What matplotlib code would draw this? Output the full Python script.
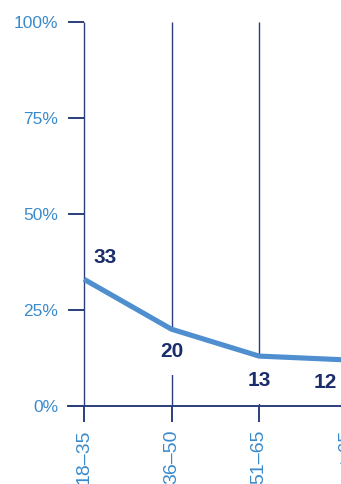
# Line chart of share per age group, clipped at the right edge like the source graphic
import numpy as np
import matplotlib.pyplot as plt

plt.rcParams.update({"font.family": 'Liberation Sans'})

# Data
age_groups = ['18–35', '36–50', '51–65', '>65']
shares = [33, 20, 13, 12]
y_ticks = [0, 25, 50, 75, 100]
y_tick_labels = ['0%', '25%', '50%', '75%', '100%']

# Colours
navy = '#2c3f7c'
text_navy = '#1b2d6b'
tick_blue = '#3a8acb'
line_blue = '#4f8fcf'

fig = plt.figure(figsize=(3.41, 4.84), dpi=100)

# axes run past the right edge of the figure so the last category gets cut off
x_left, x_right = -0.183, 3.3
ax = fig.add_axes([68/341, 78/484, 0.8937, 384/484])
ax.set_xlim(x_left, x_right)
ax.set_ylim(0, 100)

# vertical guide lines at each category
ax.vlines(np.arange(len(age_groups)), 0, 100, color=navy, lw=1.0, zorder=1)

# data line
x = np.arange(len(age_groups))
ax.plot(x, shares, color=line_blue, lw=3.7, solid_capstyle='butt', zorder=4)

# value labels: (dx, dy) offsets in points, and whether a white box masks the guide line
label_offsets = [(15, 16), (0, -16), (0, -17.5), (-15, -16)]
label_masks = [False, True, True, False]
for xi, val, (dx, dy), masked in zip(x, shares, label_offsets, label_masks):
    bbox = dict(fc='white', ec='none', pad=10) if masked else None
    ax.annotate(str(val), (xi, val), xytext=(dx, dy), textcoords='offset points',
                ha='center', va='center', fontsize=15, fontweight='bold',
                color=text_navy, bbox=bbox, zorder=3)

# axes styling
for side in ['top', 'right', 'left']:
    ax.spines[side].set_visible(False)
ax.spines['bottom'].set_color(navy)
ax.spines['bottom'].set_linewidth(1.4)

ax.set_xticks(x)
ax.set_xticklabels(age_groups, rotation=90, va='top', ha='center')
ax.tick_params(axis='x', direction='out', length=11.5, width=1.4, color=navy,
               labelcolor=tick_blue, labelsize=14, pad=5.5)

ax.set_yticks(y_ticks)
ax.set_yticklabels(y_tick_labels)
ax.tick_params(axis='y', direction='in', length=11.5, width=1.4, color=navy,
               labelcolor=tick_blue, labelsize=12.5, pad=7)

fig.savefig('out.png', dpi=100)
